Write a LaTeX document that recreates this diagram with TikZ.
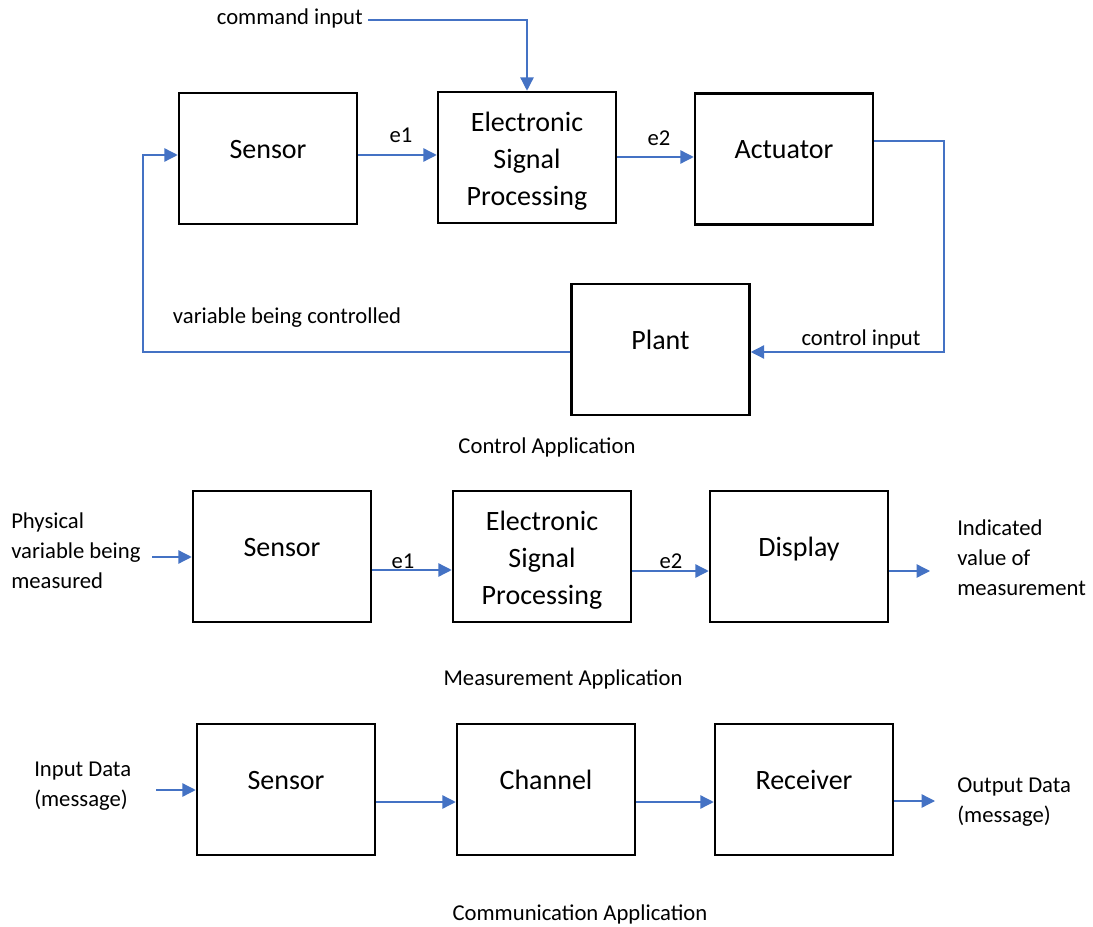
\documentclass[tikz,border=0pt]{standalone}
\usepackage{fontspec}
\setmainfont{Carlito}
\usetikzlibrary{arrows.meta}
\definecolor{linkblue}{HTML}{4472C4}

\begin{document}
\begin{tikzpicture}[x=0.75pt,y=-0.75pt,
  block/.style={draw=black, line width=1.9pt, minimum width=133.5pt,
    minimum height=98.25pt, inner sep=0pt,
    font=\fontsize{21}{27.7}\selectfont, text height=6pt, text depth=6pt},
  espbox/.style={draw=black, line width=1.9pt, minimum width=133.5pt,
    minimum height=98.25pt, inner sep=0pt, align=center,
    font=\fontsize{21}{27.7}\selectfont},
  lbl/.style={font=\fontsize{17}{22.5}\selectfont, inner sep=0pt},
  arr/.style={draw=linkblue, line width=1pt,
    -{Triangle[length=10pt,width=10pt]}}]

\useasboundingbox (0,0) rectangle (1093,927);

% taller first line pushes the three-line block slightly downwards
\newcommand{\toppad}{\rule{0pt}{20.5pt}}

% ---------------- control loop ----------------
\node[block]   (s1) at (268,158.5) {Sensor};
\node[espbox]  (p1) at (527,157.5) {\toppad Electronic\\Signal\\Processing};
\node[block]   (a1) at (784,159)   {Actuator};
\node[block]   (pl) at (660.5,349.5) {Plant};

\node[lbl, anchor=base east] (cmd) at (363,25) {command input};
\coordinate (cmdend) at (368,20);
\draw[arr] (cmdend) -| (p1.north);

\draw[arr] (s1.east |- 0,155) -- (p1.west |- 0,155);
\node[lbl, anchor=base] (e1a) at (401,143) {e1};
\draw[arr] (p1.east |- 0,157) -- (a1.west |- 0,157);
\node[lbl, anchor=base] (e2a) at (659,146) {e2};

\coordinate (fbr) at (944,250);
\draw[arr] (a1.east |- 0,141) -| (fbr) |- (pl.east |- 0,352);
\node[lbl, anchor=base] (cin) at (861,346) {control input};

\coordinate (fbl) at (143,250);
\draw[arr] (pl.west |- 0,352) -| (fbl) |- (s1.west |- 0,155);
\node[lbl, anchor=base] (vbc) at (287,324) {variable being controlled};

\node[lbl, anchor=base] (capA) at (547,453) {Control Application};

% ---------------- measurement chain ----------------
\node[block]   (s2) at (282,556.5) {Sensor};
\node[espbox]  (p2) at (542,556.5) {\toppad Electronic\\Signal\\Processing};
\node[block]   (d2) at (799,556.5) {Display};

\node[lbl, anchor=base west, align=left] (phys) at (11,588)
  {Physical\\variable being\\measured};
\coordinate (min) at (152,557);
\draw[arr] (min) -- (s2.west |- min);

\draw[arr] (s2.east |- 0,570) -- (p2.west |- 0,570);
\node[lbl, anchor=base] (e1b) at (403,568) {e1};
\draw[arr] (p2.east |- 0,571) -- (d2.west |- 0,571);
\node[lbl, anchor=base] (e2b) at (671,568) {e2};

\coordinate (mout) at (930,571);
\draw[arr] (d2.east |- mout) -- (mout);
\node[lbl, anchor=base west, align=left] (ind) at (957,595)
  {Indicated\\value of\\measurement};

\node[lbl, anchor=base] (capB) at (563,685) {Measurement Application};

% ---------------- communication chain ----------------
\node[block] (s3) at (286,789.5) {Sensor};
\node[block] (c3) at (546,789.5) {Channel};
\node[block] (r3) at (804,789.5) {Receiver};

\node[lbl, anchor=base west, align=left] (din) at (34,806)
  {Input Data\\(message)};
\coordinate (cin3) at (156,790);
\draw[arr] (cin3) -- (s3.west |- cin3);

\draw[arr] (s3.east |- 0,802) -- (c3.west |- 0,802);
\draw[arr] (c3.east |- 0,802) -- (r3.west |- 0,802);

\coordinate (cout) at (935,801);
\draw[arr] (r3.east |- cout) -- (cout);
\node[lbl, anchor=base west, align=left] (dout) at (957,822)
  {Output Data\\(message)};

\node[lbl, anchor=base] (capC) at (580,920) {Communication Application};
\end{tikzpicture}
\end{document}
